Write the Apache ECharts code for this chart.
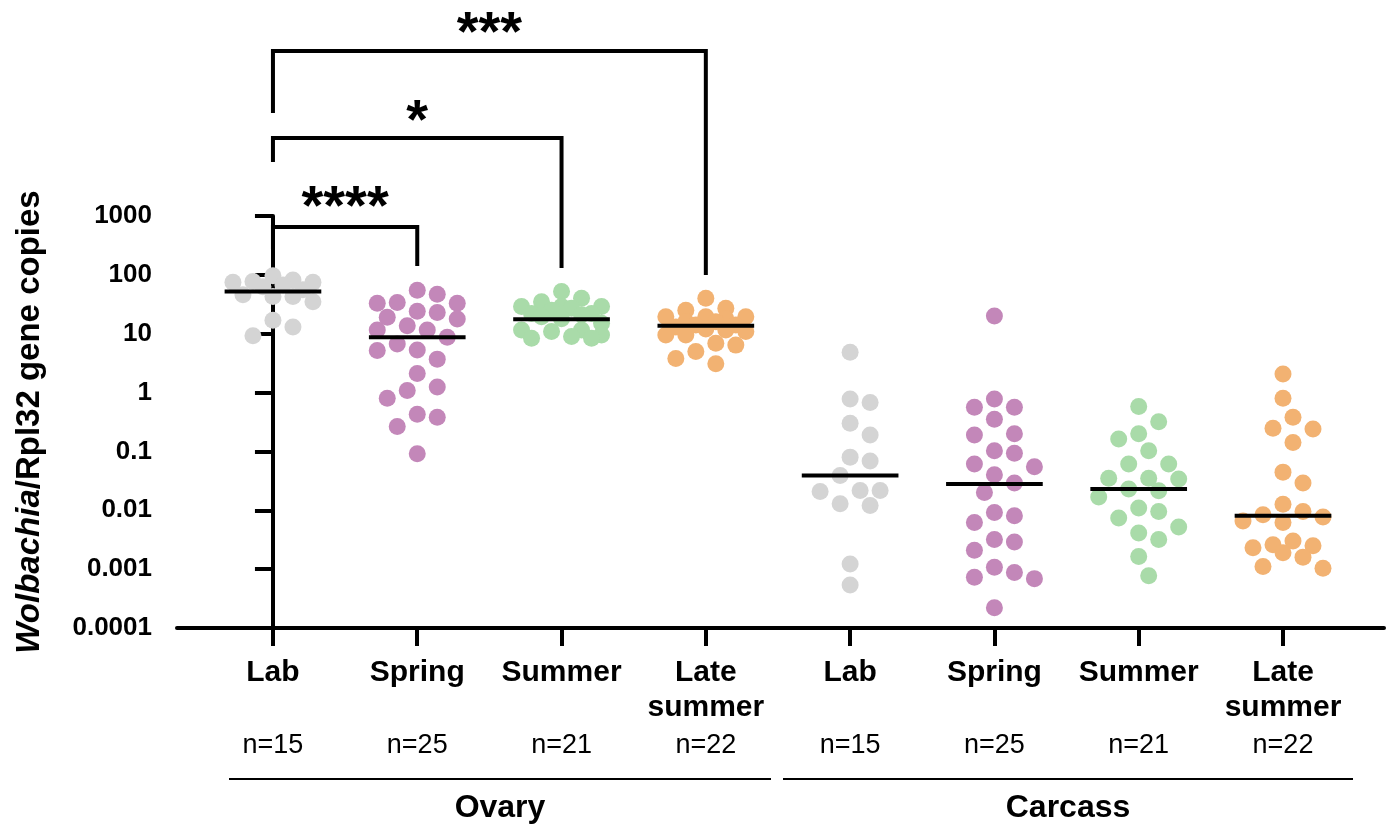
<!DOCTYPE html>
<html>
<head>
<meta charset="utf-8">
<script src="https://cdn.jsdelivr.net/npm/echarts@6/dist/echarts.min.js"></script>
<style>
  html, body { margin: 0; padding: 0; background: #fff; }
  #chart { width: 1397px; height: 839px; }
</style>
</head>
<body>
<div id="chart"></div>
<script>
var categories = ['Lab', 'Spring', 'Summer', 'Late\nsummer', 'Lab', 'Spring', 'Summer', 'Late\nsummer'];
var sampleSizes = ['n=15', 'n=25', 'n=21', 'n=22', 'n=15', 'n=25', 'n=21', 'n=22'];
var tissues = ['Ovary', 'Carcass'];
var yTicks = ['0.0001', '0.001', '0.01', '0.1', '1', '10', '100', '1000'];

// Wolbachia/Rpl32 ratio per fly
var ovaryLab = [97, 82, 77, 75, 75, 67, 63, 56, 46, 43, 43, 35, 17, 13, 9.2];
var ovarySpring = [55, 47, 34, 33, 33, 24, 23, 19, 17.8, 13.7, 11.6, 11.6, 8.7, 6.7, 5.3,
                   5.2, 3.7, 2.1, 1.24, 1.08, 0.8, 0.43, 0.38, 0.265, 0.091];
var ovarySummer = [52, 40, 35, 29, 29, 29, 27, 25, 22, 22, 21, 19.5, 18, 15, 11.6,
                   11.6, 10.9, 9.5, 9, 8.4, 8.4];
var ovaryLateSummer = [40, 27, 25, 19.5, 19.5, 19.5, 18, 16, 16, 14, 14, 13, 12, 11.6,
                       10.9, 9.5, 9.5, 6.9, 6.4, 5, 3.8, 3.1];
var carcassLab = [4.85, 0.78, 0.68, 0.30, 0.19, 0.080, 0.069, 0.039, 0.0217, 0.0209,
                  0.0217, 0.0129, 0.0121, 0.00122, 0.00054];
var carcassSpring = [20, 0.78, 0.565, 0.565, 0.353, 0.20, 0.19, 0.103, 0.093, 0.061,
                     0.055, 0.040, 0.029, 0.020, 0.0092, 0.0081, 0.0062, 0.0032, 0.0029,
                     0.0021, 0.00108, 0.00088, 0.00073, 0.00069, 0.00022];
var carcassSummer = [0.58, 0.32, 0.20, 0.162, 0.103, 0.061, 0.061, 0.035, 0.035, 0.034,
                     0.0229, 0.0214, 0.0168, 0.0109, 0.0095, 0.0074, 0.0052, 0.0041,
                     0.0032, 0.00164, 0.00077];
var carcassLateSummer = [2.07, 0.80, 0.38, 0.248, 0.24, 0.142, 0.0445, 0.029, 0.0127,
                         0.0095, 0.0084, 0.0077, 0.0066, 0.0062, 0.0030, 0.0026, 0.0025,
                         0.0023, 0.0019, 0.0016, 0.00111, 0.00104];
var medians = [52, 8.7, 17.6, 13.6, 0.039, 0.028, 0.023, 0.0081];

// [from group, to group, stars]
var comparisons = [[0, 1, '****'], [0, 2, '*'], [0, 3, '***']];

var groups = [ovaryLab, ovarySpring, ovarySummer, ovaryLateSummer,
              carcassLab, carcassSpring, carcassSummer, carcassLateSummer];
var colors = ['#d4d4d4', '#c387b9', '#a9dba9', '#f2b272'];
var font = 'Liberation Sans, Arial, Helvetica, sans-serif';
var idx = [0, 1, 2, 3, 4, 5, 6, 7];

var chart = echarts.init(document.getElementById('chart'));

var option = {
  animation: false,
  backgroundColor: '#fff',
  grid: { left: 177, top: 216, right: 13, bottom: 211 },
  xAxis: {
    type: 'value',
    min: -0.665,
    max: 7.7,
    axisLine: { show: true, lineStyle: { color: '#000', width: 4 } },
    axisTick: { show: true, customValues: idx, length: 18, lineStyle: { color: '#000', width: 4 } },
    splitLine: { show: false },
    axisLabel: {
      customValues: idx,
      margin: 27,
      formatter: function (v) {
        var i = Math.round(v);
        var lines = categories[i].split('\n');
        if (lines.length < 2) lines.push(' ');
        return '{c|' + lines[0] + '}\n{c|' + lines[1] + '}\n{n|' + sampleSizes[i] + '}';
      },
      rich: {
        c: { fontFamily: font, fontSize: 30, fontWeight: 'bold', color: '#000', lineHeight: 35 },
        n: { fontFamily: font, fontSize: 27, color: '#000', lineHeight: 42 }
      }
    }
  },
  yAxis: {
    type: 'log',
    logBase: 10,
    min: 0.0001,
    max: 1000,
    interval: 1,
    splitNumber: 7,
    name: '{i|Wolbachia}{r|/Rpl32 gene copies}',
    nameLocation: 'middle',
    nameGap: 131,
    nameTextStyle: {
      rich: {
        i: { fontFamily: font, fontSize: 33, fontWeight: 'bold', fontStyle: 'italic', color: '#000' },
        r: { fontFamily: font, fontSize: 33, fontWeight: 'bold', color: '#000' }
      }
    },
    axisLine: { show: true, lineStyle: { color: '#000', width: 4 } },
    axisTick: { show: true, length: 18, lineStyle: { color: '#000', width: 4 } },
    minorTick: { show: false },
    splitLine: { show: false },
    axisLabel: {
      margin: 25,
      fontFamily: font,
      fontSize: 26,
      fontWeight: 'bold',
      color: '#000',
      formatter: function (v) {
        return yTicks[Math.round(Math.log10(v)) + 4];
      }
    }
  },
  series: []
};

chart.setOption(option);

function toPx(x, y) {
  return chart.convertToPixel({ gridIndex: 0 }, [x, y]);
}

// simple beeswarm: nudge each point sideways until it clears the ones already placed
function swarm(values, center) {
  var unitPx = toPx(1, 1)[0] - toPx(0, 1)[0];
  var step = 10, maxSteps = 4, minDist = 19.5;
  var order = values.map(function (v, i) { return i; })
    .sort(function (a, b) { return values[b] - values[a]; });
  var placed = [];
  var out = new Array(values.length);
  order.forEach(function (i) {
    var py = toPx(center, values[i])[1];
    var best = 0, bestScore = -1;
    for (var k = 0; k <= 2 * maxSteps; k++) {
      var off = (k % 2 ? 1 : -1) * Math.ceil(k / 2) * step;
      var d = Infinity;
      placed.forEach(function (p) {
        d = Math.min(d, Math.sqrt((p[0] - off) * (p[0] - off) + (p[1] - py) * (p[1] - py)));
      });
      if (d >= minDist) { best = off; break; }
      if (d > bestScore) { bestScore = d; best = off; }
    }
    placed.push([best, py]);
    out[i] = [center + best / unitPx, values[i]];
  });
  return out;
}

var series = groups.map(function (vals, g) {
  return {
    type: 'scatter',
    symbol: 'circle',
    symbolSize: 17,
    itemStyle: { color: colors[g % 4], opacity: 1 },
    data: swarm(vals, g),
    z: 2
  };
});

series.push({
  type: 'custom',
  data: medians.map(function (m, i) { return [i, m]; }),
  encode: { x: 0, y: 1 },
  z: 5,
  renderItem: function (params, api) {
    var i = api.value(0), m = api.value(1);
    var a = api.coord([i - 0.335, m]);
    var b = api.coord([i + 0.335, m]);
    return {
      type: 'line',
      shape: { x1: a[0], y1: a[1], x2: b[0], y2: b[1] },
      style: { stroke: '#000', lineWidth: 4 }
    };
  }
});

// significance brackets: [left leg top, bar y, right leg bottom, star y]
var bracketY = [[249, 227, 266, 209], [162, 138, 268, 123], [113, 51, 275, 35]];
var graphics = [];
comparisons.forEach(function (c, k) {
  var x1 = toPx(c[0], 1)[0], x2 = toPx(c[1], 1)[0];
  var b = bracketY[k];
  graphics.push({
    type: 'polyline',
    shape: { points: [[x1, b[0]], [x1, b[1]], [x2, b[1]], [x2, b[2]]] },
    style: { stroke: '#000', lineWidth: 4, fill: null }
  });
  graphics.push({
    type: 'text',
    x: (x1 + x2) / 2,
    y: b[3],
    style: { text: c[2], font: 'bold 56px ' + font, fill: '#000', align: 'center', verticalAlign: 'middle' }
  });
});

// tissue grouping lines under the n labels
var spans = [[229, 771], [783, 1353]];
tissues.forEach(function (t, k) {
  graphics.push({
    type: 'line',
    shape: { x1: spans[k][0], y1: 779, x2: spans[k][1], y2: 779 },
    style: { stroke: '#000', lineWidth: 2 }
  });
  graphics.push({
    type: 'text',
    x: (spans[k][0] + spans[k][1]) / 2,
    y: 808,
    style: { text: t, font: 'bold 32px ' + font, fill: '#000', align: 'center', verticalAlign: 'middle' }
  });
});

chart.setOption({ series: series, graphic: graphics });
</script>
</body>
</html>
